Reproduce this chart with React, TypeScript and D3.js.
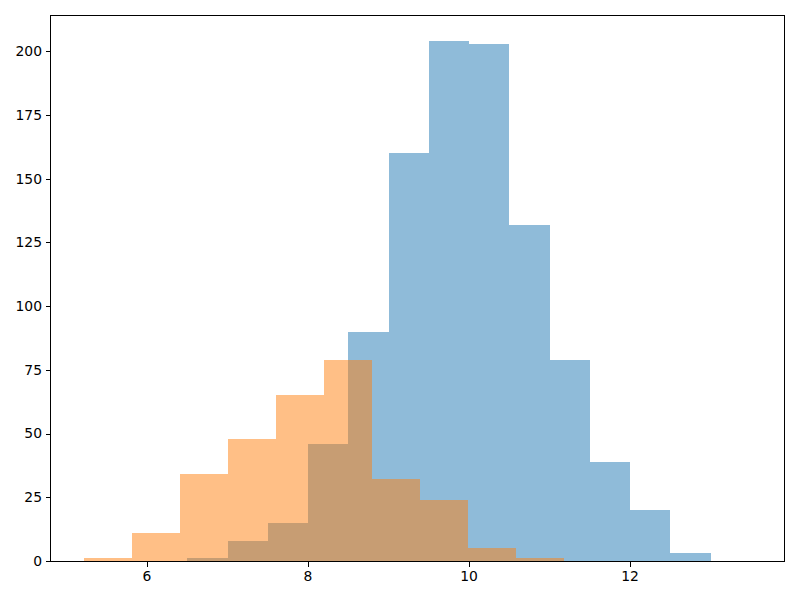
import { useEffect, useRef } from 'react';
import * as d3 from 'd3';

// blue histogram: bins of 0.5 starting at 6.5
const blueEdges = [6.5, 7.0, 7.5, 8.0, 8.5, 9.0, 9.5, 10.0, 10.5, 11.0, 11.5, 12.0, 12.5, 13.0];
const blueCounts = [1, 8, 15, 46, 90, 160, 204, 203, 132, 79, 39, 20, 3];

// orange histogram: 10 bins
const orangeEdges = [5.217, 5.813, 6.409, 7.006, 7.602, 8.198, 8.794, 9.391, 9.987, 10.583, 11.18];
const orangeCounts = [1, 11, 34, 48, 65, 79, 32, 24, 5, 1];

const xTicks = [6, 8, 10, 12];
const yTicks = [0, 25, 50, 75, 100, 125, 150, 175, 200];

const App = () => {
  const svgRef = useRef<SVGSVGElement>(null);

  useEffect(() => {
    if (!svgRef.current) return;
    const width = 800;
    const height = 600;
    const left = 50, right = 784, top = 15, bottom = 561;

    const svg = d3.select(svgRef.current);
    svg.selectAll('*').remove();

    const x = d3.scaleLinear().domain([4.795, 13.913]).range([left, right]);
    const y = d3.scaleLinear().domain([0, 214.2]).range([bottom, top]);

    svg.append('rect').attr('width', width).attr('height', height).attr('fill', 'white');

    const drawHist = (edges: number[], counts: number[], color: string) => {
      svg.append('g')
        .selectAll('rect')
        .data(counts)
        .join('rect')
        .attr('x', (_, i) => x(edges[i]))
        .attr('width', (_, i) => x(edges[i + 1]) - x(edges[i]))
        .attr('y', d => y(d))
        .attr('height', d => y(0) - y(d))
        .attr('fill', color)
        .attr('fill-opacity', 0.5)
        .attr('shape-rendering', 'crispEdges');
    };

    drawHist(blueEdges, blueCounts, '#1f77b4');
    drawHist(orangeEdges, orangeCounts, '#ff7f0e');

    // frame
    svg.append('rect')
      .attr('x', left + 0.5).attr('y', top + 0.5)
      .attr('width', right - left).attr('height', bottom - top)
      .attr('fill', 'none').attr('stroke', 'black').attr('stroke-width', 1)
      .attr('shape-rendering', 'crispEdges');

    const font = 'DejaVu Sans';

    const xa = svg.append('g');
    xTicks.forEach(t => {
      xa.append('line')
        .attr('x1', Math.round(x(t)) + 0.5).attr('x2', Math.round(x(t)) + 0.5)
        .attr('y1', bottom + 1).attr('y2', bottom + 5.5)
        .attr('stroke', 'black').attr('stroke-width', 1)
        .attr('shape-rendering', 'crispEdges');
      xa.append('text')
        .attr('x', x(t)).attr('y', bottom + 20)
        .attr('text-anchor', 'middle')
        .attr('font-family', font).attr('font-size', 13.9)
        .text(t);
    });

    const ya = svg.append('g');
    yTicks.forEach(t => {
      ya.append('line')
        .attr('x1', left - 4.5).attr('x2', left)
        .attr('y1', Math.round(y(t)) + 0.5).attr('y2', Math.round(y(t)) + 0.5)
        .attr('stroke', 'black').attr('stroke-width', 1)
        .attr('shape-rendering', 'crispEdges');
      ya.append('text')
        .attr('x', left - 8).attr('y', y(t))
        .attr('dy', '0.35em')
        .attr('text-anchor', 'end')
        .attr('font-family', font).attr('font-size', 13.9)
        .text(t);
    });
  }, []);

  return (
    <svg ref={svgRef} width={800} height={600}
      style={{ position: 'absolute', left: 0, top: 0, display: 'block' }} />
  );
};

export default App;
